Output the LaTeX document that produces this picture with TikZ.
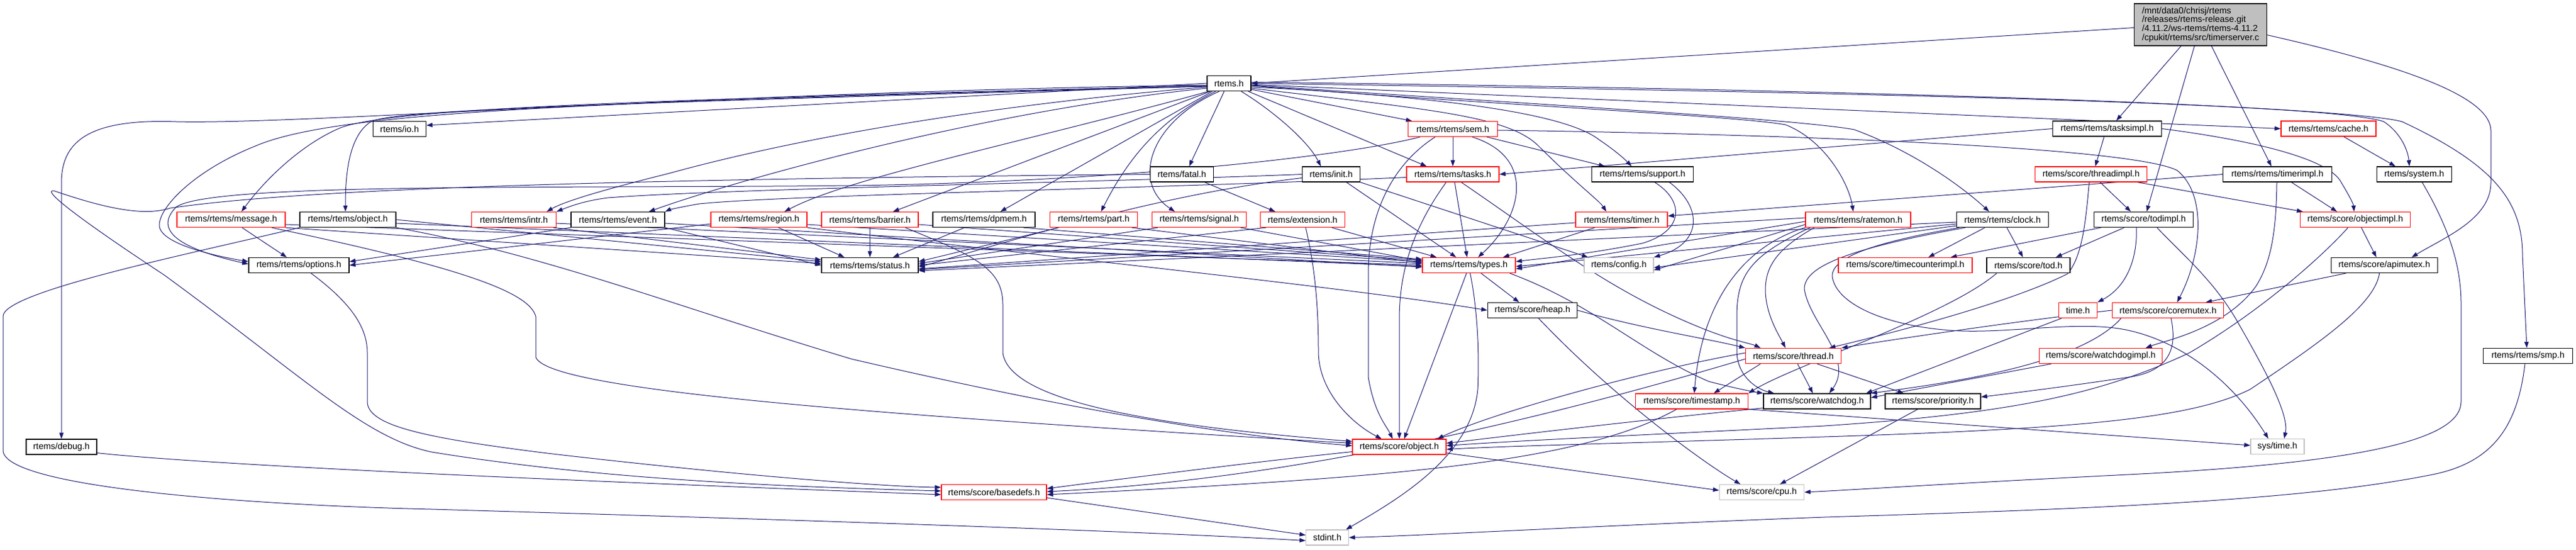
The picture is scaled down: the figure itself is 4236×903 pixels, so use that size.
\documentclass[tikz,border=0pt]{standalone}
\usepackage{fontspec}
\setmainfont{Liberation Sans}
\usetikzlibrary{arrows.meta,calc}
\definecolor{edgec}{RGB}{25,25,112}
\definecolor{nred}{RGB}{255,0,0}
\definecolor{ngray}{RGB}{191,191,191}
\definecolor{nblack}{RGB}{0,0,0}
\definecolor{rootfill}{RGB}{191,191,191}
\newcommand\dfont{\fontsize{14.5}{14.8}\selectfont}
\pgfdeclarelayer{bg}
\pgfsetlayers{bg,main}
\tikzset{
  nb/.style={draw=nblack, fill=white, line width=1.3pt, minimum height=25pt, inner sep=0pt, font=\dfont},
  nr/.style={nb, draw=nred},
  ng/.style={nb, draw=ngray},
  ed/.style={draw=edgec, line width=1pt, -{Triangle[length=10pt,width=7pt]}},
}
\begin{document}
\begin{tikzpicture}[x=1pt,y=-1pt]
\begin{pgfonlayer}{bg}
\fill[white] (0,0) rectangle (4236,903);
\end{pgfonlayer}
\useasboundingbox (0,0) rectangle (4236,903);
% nodes
\node[nb, fill=rootfill, minimum width=218pt, minimum height=69pt, align=left] (root) at (3618.5,40.5) {/mnt/data0/chrisj/rtems\\/releases/rtems-release.git\\/4.11.2/ws-rtems/rtems-4.11.2\\/cpukit/rtems/src/timerserver.c};
\node[nb, minimum width=72pt] (rtemsh) at (2021,137) {rtems.h};
\node[nb, minimum width=87pt] (io) at (657,212) {rtems/io.h};
\node[nr, minimum width=178pt] (message) at (380,361) {rtems/rtems/message.h};
\node[nb, minimum width=158pt] (objectr) at (572,361) {rtems/rtems/object.h};
\node[nb, minimum width=165pt] (options) at (491.5,436) {rtems/rtems/options.h};
\node[nb, minimum width=116pt] (debug) at (101,734.5) {rtems/debug.h};
\node[nr, minimum width=139pt] (intr) at (845,361) {rtems/rtems/intr.h};
\node[nb, minimum width=154pt] (event) at (1016,361) {rtems/rtems/event.h};
\node[nr, minimum width=158pt] (region) at (1248,361) {rtems/rtems/region.h};
\node[nr, minimum width=159pt] (barrier) at (1430.5,361) {rtems/rtems/barrier.h};
\node[nb, minimum width=159pt] (status) at (1430.5,436) {rtems/rtems/status.h};
\node[nb, minimum width=104pt] (fatal) at (1943.5,286.5) {rtems/fatal.h};
\node[nb, minimum width=168pt] (dpmem) at (1618,361) {rtems/rtems/dpmem.h};
\node[nr, minimum width=144pt] (part) at (1798.5,361) {rtems/rtems/part.h};
\node[nr, minimum width=155pt] (signal) at (1972,361) {rtems/rtems/signal.h};
\node[nr, minimum width=139pt] (extension) at (2142,361) {rtems/extension.h};
\node[nr, minimum width=173pt] (basedefs) at (1634.5,809) {rtems/score/basedefs.h};
\node[nr, minimum width=147pt] (sem) at (2389,212) {rtems/rtems/sem.h};
\node[nb, minimum width=95pt] (init) at (2189,286.5) {rtems/init.h};
\node[nr, minimum width=152pt] (tasks) at (2389,286.5) {rtems/rtems/tasks.h};
\node[nb, minimum width=167pt] (support) at (2701,286.5) {rtems/rtems/support.h};
\node[nr, minimum width=151pt] (timer) at (2666.5,361) {rtems/rtems/timer.h};
\node[nr, minimum width=153pt] (types) at (2415.5,436) {rtems/rtems/types.h};
\node[ng, minimum width=114pt] (config) at (2662,436) {rtems/config.h};
\node[nb, minimum width=147pt] (heap) at (2520,510) {rtems/score/heap.h};
\node[nr, minimum width=154pt] (objects) at (2301,734.5) {rtems/score/object.h};
\node[ng, minimum width=70pt] (stdint) at (2182.6,883.5) {stdint.h};
\node[nr, minimum width=185pt] (timestamp) at (2782,659.5) {rtems/score/timestamp.h};
\node[nb, minimum width=179pt] (tasksimpl) at (3465,211.5) {rtems/rtems/tasksimpl.h};
\node[nr, minimum width=184pt] (threadimpl) at (3438.5,286.5) {rtems/score/threadimpl.h};
\node[nr, minimum width=173pt] (ratemon) at (3055.5,361) {rtems/rtems/ratemon.h};
\node[nb, minimum width=151pt] (clock) at (3293,361) {rtems/rtems/clock.h};
\node[nb, minimum width=163pt] (todimpl) at (3525,361) {rtems/score/todimpl.h};
\node[nr, minimum width=220pt] (timecounterimpl) at (3133,436) {rtems/score/timecounterimpl.h};
\node[nb, minimum width=137pt] (tod) at (3335.5,436) {rtems/score/tod.h};
\node[nr, minimum width=157pt] (thread) at (2949,585) {rtems/score/thread.h};
\node[nb, minimum width=176pt] (watchdog) at (2988,659.5) {rtems/score/watchdog.h};
\node[nb, minimum width=157pt] (priority) at (3178.5,659.5) {rtems/score/priority.h};
\node[ng, minimum width=139pt] (cpu) at (2897,809) {rtems/score/cpu.h};
\node[nr, minimum width=63pt] (timeh) at (3417,510) {time.h};
\node[nr, minimum width=183pt] (coremutex) at (3565,510) {rtems/score/coremutex.h};
\node[nr, minimum width=202pt] (watchdogimpl) at (3454.4,585) {rtems/score/watchdogimpl.h};
\node[nr, minimum width=156pt] (cache) at (3829,211.5) {rtems/rtems/cache.h};
\node[nb, minimum width=179pt] (timerimpl) at (3745,286.5) {rtems/rtems/timerimpl.h};
\node[nb, minimum width=123pt] (system) at (3970,286.5) {rtems/system.h};
\node[nr, minimum width=181pt] (objectimpl) at (3873,361) {rtems/score/objectimpl.h};
\node[nb, minimum width=175pt] (apimutex) at (3920.7,436) {rtems/score/apimutex.h};
\node[ng, minimum width=88pt] (systime) at (3745,734) {sys/time.h};
\node[nb, minimum width=147pt] (smp) at (4157,585) {rtems/rtems/smp.h};

\begin{pgfonlayer}{bg}
% root
\draw[ed] ($(root.west)+(0,5)$) -- (rtemsh.east);
\draw[ed] ($(root.south)+(-32,0)$) -- ($(tasksimpl.north)+(15,0)$);
\draw[ed] ($(root.south)+(-10,0)$) -- ($(todimpl.north)+(5,0)$);
\draw[ed] ($(root.south)+(18,0)$) -- ($(timerimpl.north)+(-10,0)$);
\draw[ed] ($(root.east)+(0,17)$) .. controls (3960,110) and (4096,160) .. (4096,215) -- (4096,300) .. controls (4096,360) and (4020,390) .. ($(apimutex.north)+(45,0)$);
% rtems.h
\draw[ed] (rtemsh.west) -- ($(io.east)+(0,-6)$);
\draw[ed] ($(rtemsh.west)+(0,3)$) .. controls (1200,150) and (500,205) .. (290,200) .. controls (150,195) and (101,230) .. (101,300) -- (debug.north);
\draw[ed] ($(rtemsh.west)+(0,4)$) .. controls (1000,165) and (640,180) .. (560,210) .. controls (500,235) and (440,290) .. ($(message.north)+(17,0)$);
\draw[ed] ($(rtemsh.west)+(0,5)$) .. controls (1000,170) and (650,180) .. (610,200) .. controls (570,225) and (568,300) .. ($(objectr.north)+(-4,0)$);
\draw[ed] ($(rtemsh.west)+(0,4)$) .. controls (1000,168) and (560,180) .. (420,240) .. controls (320,280) and (262,340) .. (262,370) .. controls (262,400) and (350,420) .. ($(options.west)+(0,-6)$);
\draw[ed] ($(rtemsh.west)+(0,6)$) .. controls (1600,175) and (1300,230) .. (1100,285) .. controls (1000,310) and (930,330) .. ($(intr.north)+(54,0)$);
\draw[ed] ($(rtemsh.west)+(0,8)$) .. controls (1600,185) and (1200,300) .. ($(event.north)+(51,0)$);
\draw[ed] ($(rtemsh.south west)+(3,0)$) .. controls (1700,230) and (1400,290) .. ($(region.north)+(42,0)$);
\draw[ed] ($(rtemsh.south west)+(6,0)$) -- ($(barrier.north)+(38,0)$);
\draw[ed] ($(rtemsh.south west)+(9,0)$) -- ($(dpmem.north)+(27,0)$);
\draw[ed] ($(rtemsh.south)+(-22,0)$) .. controls (1900,200) and (1850,270) .. ($(part.north)+(12,0)$);
\draw[ed] ($(rtemsh.south)+(-16,0)$) .. controls (1890,200) and (1860,300) .. ($(signal.north)+(-40,0)$);
\draw[ed] ($(rtemsh.south)+(-8,0)$) -- ($(fatal.north)+(12,0)$);
\draw[ed] ($(rtemsh.south)+(20,0)$) .. controls (2090,180) and (2150,230) .. ($(init.north)+(-17,0)$);
\draw[ed] ($(rtemsh.south east)+(-5,0)$) -- ($(tasks.north)+(-43,0)$);
\draw[ed] ($(rtemsh.east)+(0,10)$) -- ($(sem.north)+(-67,0)$);
\draw[ed] ($(rtemsh.east)+(0,8)$) .. controls (2350,180) and (2480,190) .. (2530,240) .. controls (2590,300) and (2630,330) .. ($(timer.north)+(-25,0)$);
\draw[ed] ($(rtemsh.east)+(0,6)$) .. controls (2400,160) and (2580,190) .. (2630,230) .. controls (2660,250) and (2675,265) .. ($(support.north)+(-18,0)$);
\draw[ed] ($(rtemsh.east)+(0,4)$) .. controls (2500,175) and (2850,190) .. (2936,205) .. controls (3000,230) and (3040,300) .. ($(ratemon.north)+(-8,0)$);
\draw[ed] ($(rtemsh.east)+(0,3)$) .. controls (2500,170) and (2950,195) .. (3049,213) .. controls (3150,250) and (3230,310) .. ($(clock.north)+(-22,0)$);
\draw[ed] ($(rtemsh.east)+(0,2)$) -- (cache.west);
\draw[ed] (rtemsh.east) .. controls (3300,155) and (3850,175) .. (3920,200) .. controls (3950,220) and (3960,250) .. ($(system.north)+(-8,0)$);
\draw[ed] ($(rtemsh.east)+(0,-2)$) .. controls (3300,150) and (3880,180) .. (3950,200) .. controls (4100,270) and (4148,330) .. (4148,420) -- ($(smp.north)+(-2,0)$);
% fatal
\draw[ed] ($(fatal.south east)+(-15,0)$) -- ($(extension.north)+(-45,0)$);
\draw[ed] (fatal.west) .. controls (1000,295) and (500,310) .. (280,342) .. controls (240,355) and (180,345) .. (90,314) .. controls (70,310) and (100,340) .. (270,452) .. controls (500,620) and (600,720) .. (710,743) .. controls (1000,790) and (1300,800) .. ($(basedefs.west)+(0,-2)$);
% options, debug
\draw[ed] ($(options.south)+(20,0)$) .. controls (580,500) and (604,540) .. (604,580) -- (604,660) .. controls (604,700) and (700,720) .. (900,745) .. controls (1200,780) and (1450,800) .. ($(basedefs.west)+(0,-8)$);
\draw[ed] ($(debug.east)+(0,10)$) .. controls (400,770) and (1200,800) .. ($(basedefs.west)+(0,4)$);
% objectr
\draw[ed] (objectr.south west) .. controls (300,420) and (5,480) .. (5,520) -- (5,740) .. controls (5,800) and (400,830) .. (710,837) .. controls (1500,860) and (1900,875) .. ($(stdint.west)+(0,5)$);
\draw[ed] (objectr.east) -- ($(status.west)+(0,-6)$);
\draw[ed] ($(objectr.east)+(0,6)$) -- ($(types.west)+(0,2)$);
\draw[ed] (objectr.south east) .. controls (900,420) and (1100,500) .. (1400,590) .. controls (1700,660) and (2000,715) .. ($(objects.west)+(0,-2)$);
% message
\draw[ed] ($(message.south)+(18,0)$) -- ($(options.north)+(-20,0)$);
\draw[ed] (message.south east) -- ($(status.west)+(0,-3)$);
\draw[ed] ($(message.east)+(0,8)$) -- (types.west);
\draw[ed] ($(message.south east)+(-23,0)$) .. controls (760,440) and (870,480) .. (881,520) -- (881,587) .. controls (900,640) and (1400,680) .. ($(objects.west)+(0,-6)$);
% intr
\draw[ed] ($(intr.south east)+(-5,0)$) -- ($(status.west)+(0,-9)$);
\draw[ed] ($(intr.east)+(0,6)$) -- ($(types.west)+(0,-3)$);
% event
\draw[ed] (event.south west) -- ($(options.east)+(0,-6)$);
\draw[ed] (event.south east) -- (status.west);
\draw[ed] ($(event.east)+(0,6)$) -- ($(types.west)+(0,3)$);
% region
\draw[ed] ($(region.west)+(0,7)$) -- (options.east);
\draw[ed] ($(region.south)+(32,0)$) -- ($(status.north)+(-42,0)$);
\draw[ed] ($(region.east)+(0,8)$) -- ($(types.west)+(0,-6)$);
\draw[ed] (region.south east) .. controls (1700,420) and (2200,470) .. (heap.west);
% barrier
\draw[ed] (barrier.south) -- (status.north);
\draw[ed] ($(barrier.east)+(0,8)$) -- ($(types.west)+(0,-8)$);
\draw[ed] ($(barrier.south east)+(-22,0)$) .. controls (1600,420) and (1649,440) .. (1649,500) -- (1649,580) .. controls (1660,660) and (1900,700) .. ($(objects.west)+(0,-9)$);
% dpmem
\draw[ed] ($(dpmem.south)+(-32,0)$) -- ($(status.north)+(38,0)$);
\draw[ed] ($(dpmem.south east)+(-20,0)$) -- ($(types.west)+(0,-10)$);
% part, signal, extension
\draw[ed] ($(part.south west)+(15,0)$) -- ($(status.east)+(0,-6)$);
\draw[ed] ($(part.south east)+(-10,0)$) -- ($(types.west)+(0,-4)$);
\draw[ed] ($(signal.south west)+(10,0)$) -- ($(status.east)+(0,-3)$);
\draw[ed] ($(signal.south east)+(-10,0)$) -- ($(types.west)+(0,-7)$);
\draw[ed] ($(extension.south west)+(10,0)$) -- (status.east);
\draw[ed] ($(extension.south east)+(-22,0)$) -- ($(types.north west)+(24,0)$);
\draw[ed] ($(extension.south)+(5,0)$) .. controls (2165,450) and (2168,520) .. (2168,580) .. controls (2170,650) and (2230,700) .. ($(objects.north)+(-29,0)$);
% init
\draw[ed] (init.west) .. controls (1800,300) and (1200,310) .. (1000,325) .. controls (960,330) and (935,340) .. (intr.north east);
\draw[ed] ($(init.west)+(0,6)$) .. controls (1900,320) and (1650,400) .. ($(status.east)+(0,3)$);
\draw[ed] ($(init.south east)+(-23,0)$) -- ($(types.north)+(-21,0)$);
\draw[ed] (init.south east) -- ($(config.north west)+(7,0)$);
% tasks
\draw[ed] ($(tasks.west)+(0,5)$) .. controls (1900,310) and (1300,320) .. (1150,335) .. controls (1120,340) and (1100,345) .. (event.north east);
\draw[ed] ($(tasks.south)+(3,0)$) -- ($(types.north)+(-3,0)$);
\draw[ed] ($(tasks.south)+(-11,0)$) .. controls (2320,380) and (2302,450) .. (2301,520) -- (objects.north);
\draw[ed] ($(tasks.south)+(14,0)$) .. controls (2550,400) and (2650,480) .. (2800,540) .. controls (2850,560) and (2880,565) .. ($(thread.north)+(-54,0)$);
% sem
\draw[ed] ($(sem.south west)+(20,0)$) .. controls (2200,260) and (1800,300) .. (1400,305) .. controls (900,310) and (350,300) .. (290,340) .. controls (250,380) and (300,410) .. ($(options.west)+(0,-2)$);
\draw[ed] (sem.south) -- (tasks.north);
\draw[ed] ($(sem.south east)+(-18,0)$) -- ($(support.north)+(-62,0)$);
\draw[ed] ($(sem.south east)+(-42,0)$) .. controls (2530,260) and (2500,360) .. ($(types.north)+(15,0)$);
\draw[ed] ($(sem.south)+(-29,0)$) .. controls (2290,270) and (2250,350) .. (2250,450) -- (2250,620) .. controls (2260,680) and (2280,700) .. ($(objects.north)+(-11,0)$);
\draw[ed] ($(sem.east)+(0,2)$) .. controls (2900,220) and (3500,240) .. (3580,280) .. controls (3630,320) and (3620,420) .. ($(coremutex.north)+(15,0)$);
% support
\draw[ed] ($(support.south)+(20,0)$) .. controls (2770,330) and (2770,380) .. (2700,400) .. controls (2600,420) and (2530,425) .. ($(types.east)+(0,-6)$);
\draw[ed] ($(support.south east)+(-40,0)$) .. controls (2800,340) and (2800,400) .. (config.north east);
% timer
\draw[ed] ($(timer.west)+(0,5)$) -- ($(status.east)+(0,6)$);
\draw[ed] ($(timer.south west)+(32,0)$) -- ($(types.north east)+(-21,0)$);
% types
\draw[ed] ($(types.south)+(20,0)$) -- ($(heap.north)+(-22,0)$);
\draw[ed] ($(types.south)+(-4,0)$) -- ($(objects.north)+(8,0)$);
\draw[ed] ($(types.south)+(2,0)$) .. controls (2432,520) and (2432,600) .. (2430,640) .. controls (2420,750) and (2300,820) .. ($(stdint.north east)+(-5,0)$);
\draw[ed] ($(types.south east)+(-10,0)$) .. controls (2620,500) and (2700,580) .. (2810,627) .. controls (2860,640) and (2890,645) .. (watchdog.north west);
% heap
\draw[ed] ($(heap.south)+(10,0)$) .. controls (2650,650) and (2800,760) .. ($(cpu.north)+(-35,0)$);
\draw[ed] (heap.east) .. controls (2700,540) and (2800,555) .. (thread.north west);
% objects, basedefs
\draw[ed] ($(objects.west)+(0,8)$) .. controls (2100,755) and (1900,780) .. ($(basedefs.east)+(0,-6)$);
\draw[ed] ($(objects.south east)+(0,-3)$) -- ($(cpu.west)+(0,-3)$);
\draw[ed] ($(basedefs.south east)+(0,-4)$) -- ($(stdint.west)+(0,-4)$);
% timestamp
\draw[ed] ($(timestamp.south)+(-25,0)$) .. controls (2600,760) and (2300,785) .. ($(basedefs.east)+(0,4)$);
\draw[ed] (timestamp.south east) -- ($(systime.west)+(0,-2)$);
% thread
\draw[ed] ($(thread.south west)+(25,0)$) -- ($(timestamp.north east)+(-57,0)$);
\draw[ed] ($(thread.south)+(7,0)$) -- ($(watchdog.north)+(-7,0)$);
\draw[ed] ($(thread.south east)+(-40,0)$) -- ($(priority.north)+(-48,0)$);
\draw[ed] ($(thread.west)+(0,5)$) .. controls (2500,700) and (2100,790) .. ($(basedefs.east)+(0,-1)$);
\draw[ed] ($(thread.west)+(0,-5)$) .. controls (2700,610) and (2450,680) .. ($(objects.north east)+(-15,0)$);
% watchdog, priority
\draw[ed] ($(watchdog.south west)+(0,-2)$) .. controls (2700,690) and (2450,720) .. ($(objects.east)+(0,-6)$);
\draw[ed] ($(priority.south)+(-25,0)$) -- ($(cpu.north)+(30,0)$);
% tasksimpl
\draw[ed] (tasksimpl.west) -- (tasks.east);
\draw[ed] ($(tasksimpl.south)+(-5,0)$) -- ($(threadimpl.north)+(7,0)$);
\draw[ed] (tasksimpl.east) .. controls (3700,230) and (3830,260) .. (3850,300) .. controls (3862,320) and (3870,335) .. ($(objectimpl.north)+(-2,0)$);
% threadimpl
\draw[ed] ($(threadimpl.south)+(15,0)$) -- ($(todimpl.north)+(-21,0)$);
\draw[ed] ($(threadimpl.south east)+(-16,0)$) -- ($(objectimpl.north west)+(5,0)$);
\draw[ed] ($(threadimpl.south)+(-3,0)$) .. controls (3430,360) and (3425,420) .. (3400,450) .. controls (3300,500) and (3100,550) .. ($(thread.north east)+(-20,0)$);
% timerimpl
\draw[ed] (timerimpl.west) -- ($(timer.east)+(0,-6)$);
\draw[ed] ($(timerimpl.south east)+(-67,0)$) -- ($(objectimpl.north)+(-30,0)$);
\draw[ed] ($(timerimpl.south)+(-1,0)$) .. controls (3743,380) and (3735,430) .. (3710,470) .. controls (3660,540) and (3560,560) .. ($(watchdogimpl.north)+(74,0)$);
% todimpl
\draw[ed] ($(todimpl.south)+(-32,0)$) -- ($(tod.north east)+(-24,0)$);
\draw[ed] ($(todimpl.south west)+(12,0)$) -- ($(timecounterimpl.north east)+(-36,0)$);
\draw[ed] ($(todimpl.south)+(-12,0)$) .. controls (3515,420) and (3500,470) .. (timeh.north east);
\draw[ed] ($(todimpl.south)+(22,0)$) .. controls (3590,420) and (3640,460) .. (3680,530) .. controls (3720,600) and (3765,680) .. ($(systime.north)+(11,0)$);
% clock
\draw[ed] ($(clock.south)+(-29,0)$) -- ($(timecounterimpl.north)+(38,0)$);
\draw[ed] ($(clock.south)+(7,0)$) -- ($(tod.north)+(-9,0)$);
\draw[ed] ($(clock.west)+(0,4)$) -- ($(status.east)+(0,9)$);
\draw[ed] ($(clock.west)+(0,7)$) -- ($(types.east)+(0,2)$);
\draw[ed] ($(clock.west)+(0,10)$) -- ($(config.east)+(0,4)$);
\draw[ed] ($(clock.south west)+(5,0)$) .. controls (3100,395) and (3010,420) .. (3013,455) .. controls (3020,500) and (3100,535) .. (3207,543) .. controls (3300,550) and (3420,525) .. (3500,543) .. controls (3600,565) and (3680,640) .. ($(systime.north)+(-15,0)$);
\draw[ed] ($(clock.south west)+(15,0)$) .. controls (3030,410) and (2967,440) .. (2967,475) .. controls (2975,530) and (3050,590) .. ($(watchdog.north)+(20,0)$);
% ratemon
\draw[ed] ($(ratemon.west)+(0,-3)$) -- ($(status.east)+(0,7)$);
\draw[ed] ($(ratemon.west)+(0,3)$) -- ($(types.east)+(0,6)$);
\draw[ed] ($(ratemon.west)+(0,8)$) -- ($(config.east)+(0,8)$);
\draw[ed] ($(ratemon.south west)+(15,0)$) .. controls (2920,410) and (2902,440) .. (2903,480) .. controls (2905,520) and (2925,550) .. ($(thread.north)+(-13,0)$);
\draw[ed] ($(ratemon.south west)+(8,0)$) .. controls (2880,420) and (2856,450) .. (2856,520) -- (2856,580) .. controls (2858,620) and (2890,640) .. ($(watchdog.north west)+(18,0)$);
\draw[ed] (ratemon.south west) .. controls (2880,400) and (2800,480) .. ($(timestamp.north)+(4,0)$);
% tod
\draw[ed] ($(tod.south west)+(17,0)$) .. controls (3200,520) and (2950,600) .. (timestamp.north east);
% objectimpl
\draw[ed] ($(objectimpl.south)+(10,0)$) -- ($(apimutex.north)+(-13,0)$);
\draw[ed] ($(objectimpl.south)+(-12,0)$) .. controls (3820,420) and (3720,510) .. (3600,580) .. controls (3450,650) and (3300,680) .. (3000,700) .. controls (2700,715) and (2500,724) .. ($(objects.east)+(0,-2)$);
% apimutex
\draw[ed] ($(apimutex.south west)+(25,0)$) -- ($(coremutex.north east)+(-30,0)$);
\draw[ed] ($(apimutex.south)+(-8,0)$) .. controls (3905,500) and (3820,560) .. (3700,640) .. controls (3600,690) and (3400,705) .. (3000,718) .. controls (2700,728) and (2500,732) .. ($(objects.east)+(0,4)$);
% coremutex
\draw[ed] (coremutex.west) .. controls (3300,530) and (3100,560) .. (thread.north east);
\draw[ed] ($(coremutex.south)+(5,0)$) .. controls (3580,570) and (3570,610) .. (3500,620) .. controls (3400,635) and (3320,645) .. ($(priority.east)+(0,-7)$);
\draw[ed] ($(coremutex.south west)+(15,0)$) .. controls (3420,600) and (3200,630) .. (watchdog.north east);
% watchdogimpl, time.h
\draw[ed] ($(watchdogimpl.south west)+(20,0)$) -- ($(watchdog.east)+(0,-6)$);
\draw[ed] ($(timeh.south west)+(5,0)$) -- ($(watchdog.north east)+(-8,0)$);
% cache, system, smp
\draw[ed] ($(cache.south)+(25,0)$) -- ($(system.north)+(-31,0)$);
\draw[ed] ($(system.south)+(13,0)$) .. controls (4030,380) and (4047,440) .. (4047,500) -- (4047,660) .. controls (4047,720) and (3900,760) .. (3500,780) .. controls (3200,795) and (3050,805) .. (cpu.east);
\draw[ed] ($(smp.south)+(-5,0)$) .. controls (4140,700) and (4100,760) .. (4000,780) .. controls (3800,820) and (3500,835) .. (3000,850) .. controls (2600,865) and (2350,880) .. (stdint.east);
\end{pgfonlayer}
\end{tikzpicture}
\end{document}
